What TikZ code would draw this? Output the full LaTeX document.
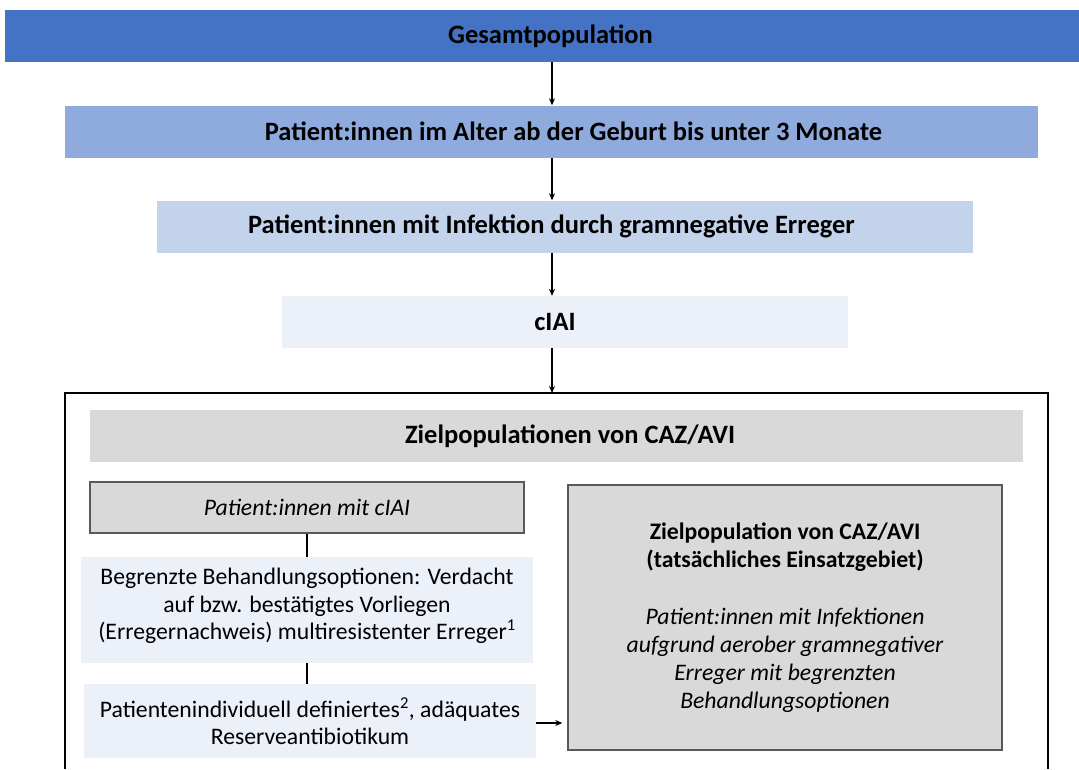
\documentclass[tikz,border=0pt]{standalone}
\usepackage{fontspec}
\setmainfont{Carlito}
\usepackage{tikz}
\usetikzlibrary{arrows.meta}

\definecolor{blauDunkel}{HTML}{4472C4}
\definecolor{blauMittel}{HTML}{8FAADC}
\definecolor{blauHell}{HTML}{C3D3EC}
\definecolor{blauBlass}{HTML}{EBF0F9}
\definecolor{grauFeld}{HTML}{D9D9D9}
\definecolor{grauRand}{HTML}{595959}

\newcommand{\versatz}[2]{\hspace*{#1}#2\hspace*{-#1}}

\tikzset{
	balken/.style={inner sep=0pt, minimum height=52pt, align=center,
		font=\fontsize{26.5}{30}\selectfont\bfseries},
	feld/.style={inner sep=0pt, align=center, fill=blauBlass,
		font=\fontsize{23.7}{27.5}\selectfont},
	grauBox/.style={inner sep=0pt, align=center, fill=grauFeld, draw=grauRand, line width=1.4pt},
	pfeil/.style={-{Stealth[length=7pt,width=6pt]}, line width=1.2pt}
}

\begin{document}
\begin{tikzpicture}[x=1pt, y=-1pt]
					\def\xMIN{0};
					\def\xMAX{1079};
					\def\yMIN{0};
					\def\yMAX{769};

					\begin{scope}
						\node[balken, fill=blauDunkel, minimum width=1074pt] (gesamt) at (542,36) {\versatz{8.5pt}{Gesamtpopulation}};
						\node[balken, fill=blauMittel, minimum width=973pt] (alter) at (551.5,131.5) {\versatz{22pt}{Patient:innen im Alter ab der Geburt bis unter 3 Monate}};
						\node[balken, fill=blauHell, minimum width=816pt] (gramneg) at (565,226.5) {\versatz{-13.5pt}{Patient:innen mit Infektion durch gramnegative Erreger}};
						\node[balken, fill=blauBlass, minimum width=566pt] (ciai) at (565,322) {\versatz{-10pt}{cIAI}};
					\end{scope}

					\coordinate (zieltop) at (552,393);
					\draw[line width=1.6pt] (65,\yMAX) -- (65,393) -- (1048,393) -- (1048,\yMAX);

					\begin{scope}
						\node[balken, fill=grauFeld, minimum width=933pt] (kopf) at (556.5,436) {\versatz{13.5pt}{Zielpopulationen von CAZ/AVI}};
						\node[grauBox, minimum width=434pt, minimum height=51pt, font=\fontsize{23.7}{27.5}\selectfont\itshape] (patciai) at (307,507.5) {Patient:innen mit cIAI};
						\node[feld, minimum width=452pt, minimum height=106pt] (begr) at (307,610)
							{Begrenzte Behandlungsoptionen: Verdacht\\auf bzw. bestätigtes Vorliegen\\(Erregernachweis) multiresistenter Erreger\textsuperscript{1}\\[-16pt]};
						\node[feld, minimum width=452pt, minimum height=74pt] (patind) at (310,721)
							{Patientenindividuell definiertes\textsuperscript{2}, adäquates\\Reserveantibiotikum};
						\node[grauBox, minimum width=434pt, minimum height=265pt, font=\fontsize{23.7}{28}\selectfont] (ziel) at (785,617.5)
							{\textbf{Zielpopulation von CAZ/AVI}\\\textbf{(tatsächliches Einsatzgebiet)}\\[29pt]
							\itshape Patient:innen mit Infektionen\\\itshape aufgrund aerober gramnegativer\\\itshape Erreger mit begrenzten\\\itshape Behandlungsoptionen};
					\end{scope}

					\begin{scope}
						\draw[pfeil] (gesamt.south -| zieltop) -- (alter.north -| zieltop);
						\draw[pfeil] (alter.south -| zieltop) -- (gramneg.north -| zieltop);
						\draw[pfeil] (gramneg.south -| zieltop) -- (ciai.north -| zieltop);
						\draw[pfeil] (ciai.south -| zieltop) -- (zieltop);
						\draw[line width=1.3pt] (patciai.south) -- (begr.north);
						\draw[line width=1.3pt] (begr.south) -- (begr.south |- patind.north);
						\draw[pfeil] (patind.east |- 0,723) -- ([xshift=-5pt]ziel.west |- 0,723);
					\end{scope}

					\pgfresetboundingbox
					\useasboundingbox (\xMIN,\yMIN) rectangle (\xMAX,\yMAX);
				\end{tikzpicture}
\end{document}
